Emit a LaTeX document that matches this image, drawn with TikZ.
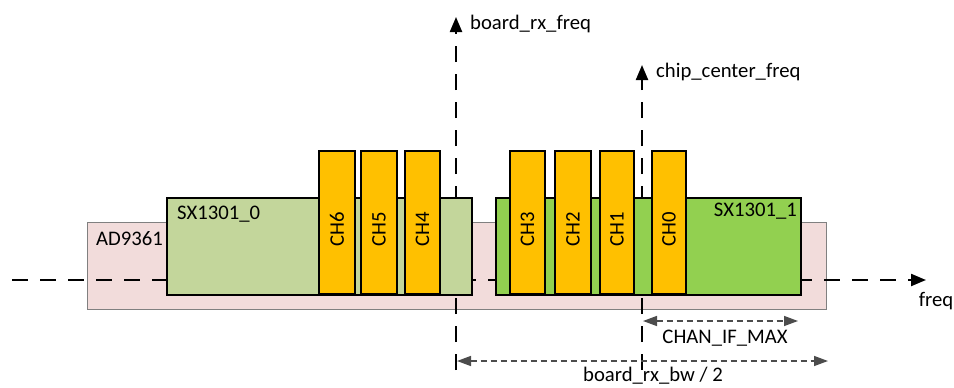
\documentclass[tikz,border=0pt]{standalone}
\usepackage{fontspec}
\setmainfont{Carlito}
\usetikzlibrary{arrows.meta}
\definecolor{pinkc}{HTML}{F2DCDB}
\definecolor{sxzero}{HTML}{C3D69B}
\definecolor{sxone}{HTML}{92D050}
\definecolor{orangec}{HTML}{FFC000}
\newcommand{\lblfont}{\fontsize{20.7}{24}\selectfont}
\tikzset{
  pinkbox/.style={draw=black!50, fill=pinkc, line width=1.2pt, inner sep=0pt, anchor=north west},
  chipbox/.style={draw=black, line width=2pt, inner sep=0pt, anchor=north west},
  chbox/.style={draw=black, fill=orangec, line width=2pt, inner sep=0pt, anchor=north west, minimum height=143pt},
  axisline/.style={line width=2.2pt, dash pattern=on 16pt off 12pt},
  dimline/.style={line width=1.4pt, draw=black!70, dash pattern=on 6pt off 4pt},
  bigtip/.style={-{Triangle[length=15pt,width=12pt]}},
  dimtips/.style={{Triangle[length=14pt,width=10pt]}-{Triangle[length=14pt,width=10pt]}},
  lbl/.style={font=\lblfont, inner sep=0pt, text=black},
  chlbl/.style={font=\lblfont, inner sep=0pt, rotate=90}
}
\begin{document}
\begin{tikzpicture}[x=1pt,y=-1pt]
\useasboundingbox (0,0) rectangle (954,388);
% AD9361 background
\node[pinkbox, minimum width=739pt, minimum height=87pt] (ad) at (87,222) {};
% axes
\coordinate (axl) at (12,280);
\coordinate (axr) at (926,280);
\draw[axisline, bigtip] (axl) -- (axr);
\coordinate (brxb) at (456,370);
\coordinate (brxt) at (456,17);
\draw[axisline, bigtip] (brxb) -- (brxt);
\coordinate (ccfb) at (642,370);
\coordinate (ccft) at (642,65);
\draw[axisline, bigtip] (ccfb) -- (ccft);
% SX1301 chips
\node[chipbox, fill=sxzero, minimum width=305pt, minimum height=97pt] (sx0) at (166,197) {};
\node[chipbox, fill=sxone, minimum width=305pt, minimum height=97pt] (sx1) at (495,197) {};
% channels
\node[chbox, minimum width=36pt] (ch6) at (318,150) {};
\node[chbox, minimum width=36pt] (ch5) at (360,150) {};
\node[chbox, minimum width=35pt] (ch4) at (404,150) {};
\node[chbox, minimum width=35pt] (ch3) at (509,150) {};
\node[chbox, minimum width=36pt] (ch2) at (554,150) {};
\node[chbox, minimum width=34pt] (ch1) at (599,150) {};
\node[chbox, minimum width=34pt] (ch0) at (651,150) {};
\foreach \c/\t in {ch6/CH6, ch5/CH5, ch4/CH4, ch3/CH3, ch2/CH2, ch1/CH1, ch0/CH0}{
  \node[chlbl] at ([yshift=-7pt]\c.center) {\t};
}
% labels
\node[lbl, anchor=west] (adl) at (96,239) {AD9361};
\node[lbl, anchor=west] (sx0l) at (177,214) {SX1301\_0};
\node[lbl, anchor=east] (sx1l) at (797,211) {SX1301\_1};
\node[lbl, anchor=west] (brxl) at (470,24) {board\_rx\_freq};
\node[lbl, anchor=west] (ccfl) at (656,72) {chip\_center\_freq};
\node[lbl] (freql) at (936,301) {freq};
% dimension lines
\coordinate (cifl) at (643,321);
\coordinate (cifr) at (798,321);
\draw[dimline, dimtips] (cifl) -- (cifr);
\node[lbl] (cifla) at (725,338) {CHAN\_IF\_MAX};
\coordinate (bwl) at (457,361);
\coordinate (bwr) at (828,361);
\draw[dimline, dimtips] (bwl) -- (bwr);
\node[lbl] (bwla) at (653,376) {board\_rx\_bw / 2};
\end{tikzpicture}
\end{document}
